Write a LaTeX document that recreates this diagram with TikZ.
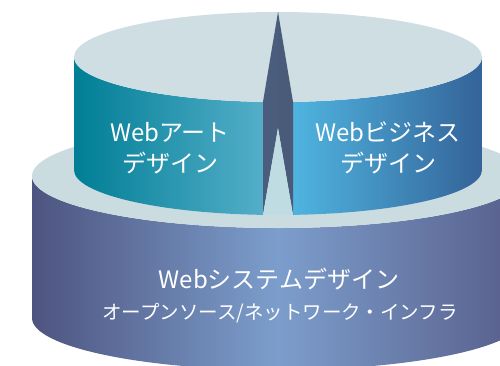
\documentclass[tikz,border=0pt]{standalone}
\usepackage{fontspec}
\setmainfont{Noto Sans CJK JP}
\definecolor{topface}{HTML}{CEDEE2}
\definecolor{basetop}{HTML}{CADCE0}
\definecolor{gaplight}{HTML}{BEDCE2}
\definecolor{gapdark}{HTML}{4B5D7C}
\definecolor{gapdarkB}{HTML}{4A5B79}
\definecolor{artL}{HTML}{007E95}
\definecolor{artR}{HTML}{54AEC9}
\definecolor{bizL}{HTML}{4FB4DF}
\definecolor{bizR}{HTML}{346399}
\definecolor{sysL}{HTML}{4E5480}
\definecolor{sysM}{HTML}{7C9ECC}
\definecolor{sysR}{HTML}{575D8A}
\tikzset{
  label/.style={text=white, align=center, inner sep=0pt},
}
\begin{document}
\begin{tikzpicture}[x=1pt, y=1pt, yscale=-1]
\useasboundingbox (0,0) rectangle (500,365);
\clip (0,0) rectangle (500,365);
% ---------- base cylinder ----------
\shade[left color=sysL, right color=sysR, middle color=sysM]
  (32,176) -- (32,318) arc (180:0:246pt and 52pt) -- (524,176)
  arc (0:180:246pt and 52pt) -- cycle;
\fill[basetop] (278,176) ellipse (246pt and 52pt);
% ---------- upper cylinder: left half ----------
\shade[left color=artL, right color=artR]
  (74,57) -- (74,170) arc (180:94.2:204pt and 45pt) -- (263,101.9)
  arc (94.2:180:204pt and 45pt) -- cycle;
% right half
\shade[left color=bizL, right color=bizR]
  (482,57) -- (482,170) arc (0:85.8:204pt and 45pt) -- (293,101.9)
  arc (85.8:0:204pt and 45pt) -- cycle;
% top face
\fill[topface] (278,57) ellipse (204pt and 45pt);
% gap
\fill[gapdark] (278,12) -- (263,101.9) -- (263,214.9) -- (278,128) -- cycle;
\fill[gapdarkB] (278,12) -- (293,101.9) -- (293,214.9) -- (278,128) -- cycle;
\fill[gaplight] (263,214.9) -- (278,128) -- (293,214.9) -- cycle;
% ---------- labels ----------
\node[label, font=\fontsize{24}{31}\selectfont] (art) at (170,148) {Webアート\\デザイン};
\node[label, font=\fontsize{24}{31}\selectfont] (biz) at (388,148) {Webビジネス\\デザイン};
\node[label, font=\fontsize{24}{30}\selectfont] (sys) at (279,279) {Webシステムデザイン};
\node[label, font=\fontsize{19.5}{24}\selectfont] (infra) at (280,313) {オープンソース/ネットワーク・インフラ};
\end{tikzpicture}
\end{document}
